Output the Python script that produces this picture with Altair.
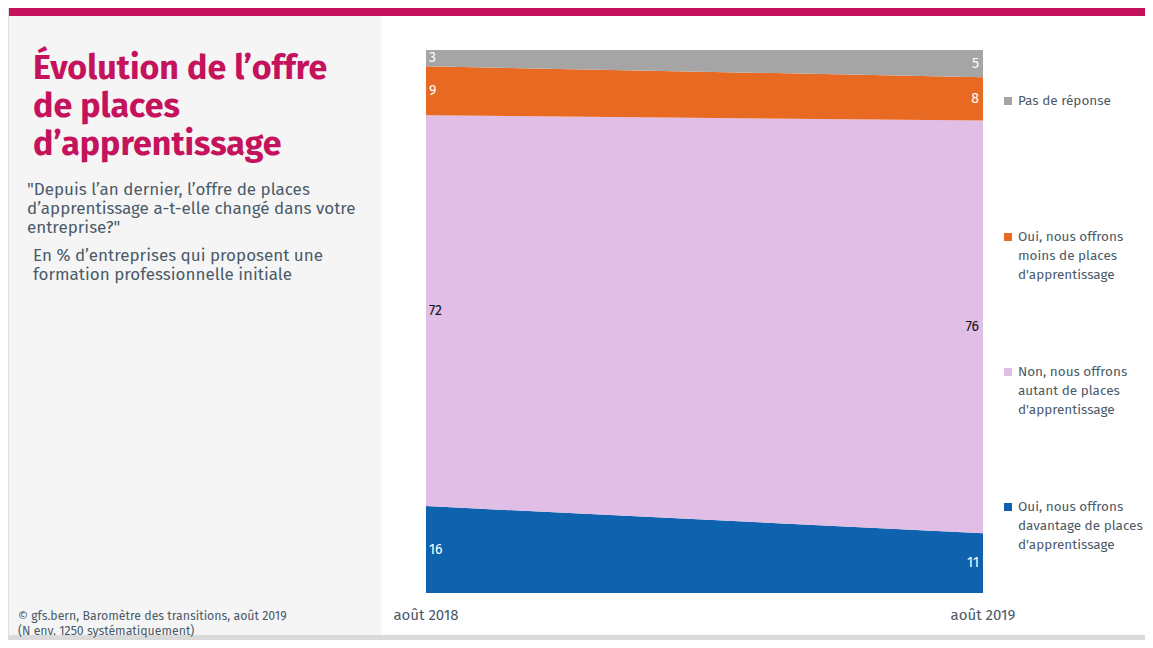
import altair as alt
import pandas as pd

# ---------------- data ----------------
years = [2018, 2019]
year_labels = ["août 2018", "août 2019"]
series = [
    "Oui, nous offrons davantage de places d'apprentissage",
    "Non, nous offrons autant de places d'apprentissage",
    "Oui, nous offrons moins de places d'apprentissage",
    "Pas de réponse",
]
values_2018 = [16, 72, 9, 3]
values_2019 = [11, 76, 8, 5]
colors = ["#0E62AE", "#E0BEE6", "#E86A22", "#A5A5A5"]

legend_lines = [
    ["Pas de réponse"],
    ["Oui, nous offrons", "moins de places", "d'apprentissage"],
    ["Non, nous offrons", "autant de places", "d'apprentissage"],
    ["Oui, nous offrons", "davantage de places", "d'apprentissage"],
]
legend_series_idx = [3, 2, 1, 0]

title_lines = ["Évolution de l’offre", "de places", "d’apprentissage"]
question_lines = [
    "\"Depuis l’an dernier, l’offre de places",
    "d’apprentissage a-t-elle changé dans votre",
    "entreprise?\"",
]
unit_lines = ["En % d’entreprises qui proposent une", "formation professionnelle initiale"]
source_lines = ["©  gfs.bern, Baromètre des transitions, août 2019", "(N env. 1250 systématiquement)"]

rows = []
for yr, vals in zip(years, [values_2018, values_2019]):
    for r, (s, v) in enumerate(zip(series, vals)):
        rows.append({"year": yr, "series": s, "rank": r, "value": v})
df = pd.DataFrame(rows)
axis_df = pd.DataFrame({"year": years, "label": year_labels})
one = pd.DataFrame({"a": [0]})

FONT = "Fira Sans, Roboto, sans-serif"
TXT = "#4B5A68"
W, H = 1137, 632

xscale = alt.Scale(domain=[2018, 2019], range=[418, 975])
yscale = alt.Scale(domain=[0, 100], range=[585, 42])
cscale = alt.Scale(domain=series, range=colors)


def rect(x, x2, y, y2, color):
    return alt.Chart(one).mark_rect(color=color).encode(
        x=alt.value(x), x2=alt.value(x2), y=alt.value(y), y2=alt.value(y2)
    )


def text(line, x, y, size, color=TXT, weight="normal", align="left"):
    return alt.Chart(one).mark_text(
        text=line, font=FONT, fontSize=size, color=color, fontWeight=weight,
        align=align, baseline="alphabetic"
    ).encode(x=alt.value(x), y=alt.value(y))


layers = []
# backgrounds
layers.append(rect(1, 373, 8, 632, "#F5F5F5"))
layers.append(rect(1, W, 0, 8, "#C4135C"))
layers.append(rect(1, W, 627, 632, "#DADADA"))

# stacked area
base = alt.Chart(df).transform_stack(
    stack="value", groupby=["year"], as_=["y0", "y1"],
    sort=[alt.SortField("rank", order="ascending")]
).transform_calculate(mid="(datum.y0 + datum.y1) / 2")

area = base.mark_area(interpolate="linear", opacity=1).encode(
    x=alt.X("year:Q", scale=xscale, axis=None),
    y=alt.Y("y1:Q", scale=yscale, axis=None),
    y2="y0:Q",
    color=alt.Color("series:N", scale=cscale, legend=None),
    detail="series:N",
    order=alt.Order("rank:Q"),
)
layers.append(area)

label_color = alt.condition("datum.rank == 1", alt.value("#111111"), alt.value("white"))
lab18 = base.transform_filter("datum.year == 2018").mark_text(
    align="left", dx=3, font=FONT, fontSize=14, baseline="middle"
).encode(
    x=alt.X("year:Q", scale=xscale, axis=None),
    y=alt.Y("mid:Q", scale=yscale, axis=None),
    text="value:Q",
    color=label_color,
)
lab19 = base.transform_filter("datum.year == 2019").mark_text(
    align="right", dx=-4, font=FONT, fontSize=14, baseline="middle"
).encode(
    x=alt.X("year:Q", scale=xscale, axis=None),
    y=alt.Y("mid:Q", scale=yscale, axis=None),
    text="value:Q",
    color=label_color,
)
layers += [lab18, lab19]

# x axis labels
axis_lab = alt.Chart(axis_df).mark_text(
    font=FONT, fontSize=15, color=TXT, baseline="alphabetic", align="center"
).encode(x=alt.X("year:Q", scale=xscale, axis=None), y=alt.value(612), text="label:N")
layers.append(axis_lab)

# left panel text
for i, line in enumerate(title_lines):
    layers.append(text(line, 25, 71 + 38 * i, 34, color="#C4135C", weight="bold"))
for i, line in enumerate(question_lines):
    layers.append(text(line, 19, 187 + 19 * i, 17))
for i, line in enumerate(unit_lines):
    layers.append(text(line, 25, 253 + 19 * i, 17))
for i, line in enumerate(source_lines):
    layers.append(text(line, 10, 612 + 15 * i, 12.3))

# legend
legend_top = [93, 229, 364, 499]
for k, lines in enumerate(legend_lines):
    y0 = legend_top[k]
    layers.append(
        alt.Chart(one).mark_square(size=64, opacity=1, color=colors[legend_series_idx[k]]).encode(
            x=alt.value(1000), y=alt.value(y0)
        )
    )
    for j, line in enumerate(lines):
        t = alt.Chart(one).mark_text(
            text=line, font=FONT, fontSize=13.5, color=TXT, align="left", baseline="middle"
        ).encode(x=alt.value(1010), y=alt.value(y0 + 19 * j))
        layers.append(t)

chart = alt.layer(*layers).properties(
    width=W, height=H, padding=0, autosize="none"
).configure_view(stroke=None).configure(background="white")

chart.save("out.html", embed_options={"renderer": "svg", "actions": False})
